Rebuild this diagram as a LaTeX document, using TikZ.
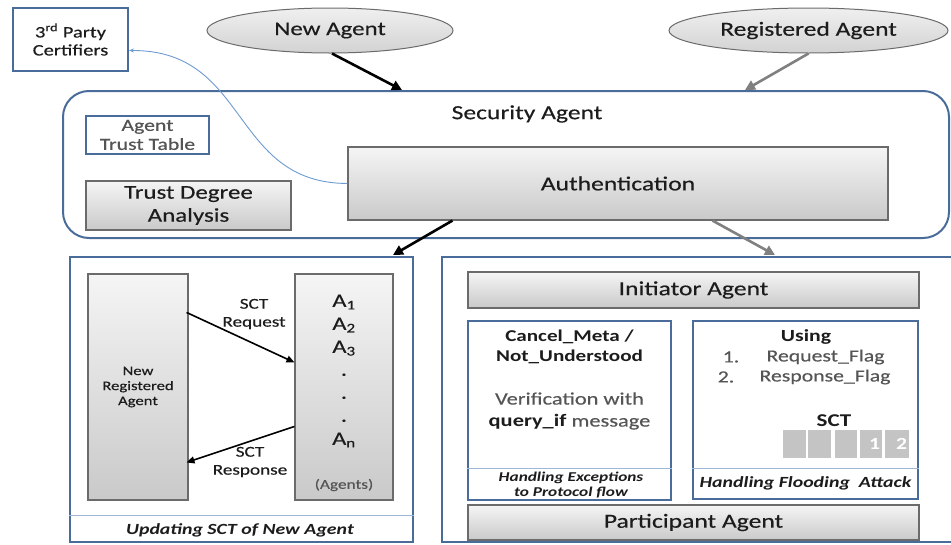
\documentclass[tikz,border=0pt]{standalone}
\usepackage{fontspec}
\setmainfont{Carlito}[FakeStretch=1.28, UprightFeatures={FakeBold=0.35}]
\usetikzlibrary{arrows.meta,calc,shapes.geometric}

\definecolor{frameblue}{HTML}{4A6C9B}
\definecolor{lineblue}{HTML}{9DB7D8}
\definecolor{curveblue}{HTML}{6E9AD0}
\definecolor{boxedge}{HTML}{6B6B6B}
\definecolor{ink}{HTML}{1C1C1C}
\definecolor{softink}{HTML}{555555}
\definecolor{arrowgray}{HTML}{808080}
\definecolor{cellgray}{HTML}{C4C4C4}

\newcommand{\fs}[2]{\fontsize{#1}{#2}\selectfont}

\tikzset{
  bluebox/.style={draw=frameblue, line width=2pt, fill=white, inner sep=0pt},
  graybox/.style={draw=boxedge, line width=1.1pt, top color=gray!8, bottom color=gray!42,
                  inner sep=0pt, text=ink},
  oval/.style={ellipse, draw=boxedge, line width=1pt, top color=gray!12, bottom color=gray!35,
               inner sep=0pt, text=ink},
  plain/.style={inner sep=0pt, text=ink, align=center},
  blkarrow/.style={draw=black, line width=2.6pt, -{Triangle[length=10pt,width=10pt]}},
  gryarrow/.style={draw=arrowgray, line width=2.6pt, -{Triangle[length=10pt,width=10pt]}},
  thinarrow/.style={draw=black, line width=1.6pt, -{Triangle[length=8pt,width=7pt]}},
  divider/.style={draw=lineblue, line width=1pt},
  cell/.style={fill=cellgray, minimum width=23pt, minimum height=28pt, inner sep=1.5pt,
               text=white, font=\fs{17}{17}\bfseries, anchor=north west, align=right}
}

\begin{document}
\begin{tikzpicture}[x=1pt,y=-1pt]
\useasboundingbox (0,0) rectangle (951,544);

% --- top row: external parties ---
\node[bluebox, minimum width=115pt, minimum height=63pt, align=center, text=ink,
      font=\fs{16}{18}] (tpc) at (70.5,39.5) {3\textsuperscript{rd} Party\\Certifiers};
\node[oval, minimum width=246pt, minimum height=45pt, font=\fs{19.5}{20}] (newag) at (330,30.5) {New Agent};
\node[oval, minimum width=279pt, minimum height=45pt, font=\fs{20}{20}] (regag) at (808.5,30.5) {Registered Agent};

% --- security agent ---
\node[draw=frameblue, line width=2pt, rounded corners=26pt, minimum width=886pt,
      minimum height=147pt, inner sep=0pt] (sec) at (506,164.5) {};
\node[plain, font=\fs{20}{20}] (sectitle) at (527,114) {Security Agent};
\node[bluebox, minimum width=123pt, minimum height=38pt, align=center, text=softink,
      font=\fs{17}{19}] (att) at (147.5,135) {Agent\\Trust Table};
\node[graybox, minimum width=205pt, minimum height=49pt, align=center,
      font=\fs{19.5}{23}] (tda) at (188.5,205.5) {Trust Degree\\Analysis};
\node[graybox, minimum width=540pt, minimum height=73pt, font=\fs{20}{22}] (auth) at (618,183.5) {Authentication};

% --- lower left: updating the SCT of a new agent ---
\node[bluebox, minimum width=343pt, minimum height=285pt] (lbox) at (241.5,399.5) {};
\node[graybox, minimum width=100pt, minimum height=226pt, align=center,
      font=\fs{13}{15}] (nra) at (138,387) {New\\Registered\\Agent};
\node[graybox, minimum width=98pt, minimum height=226pt] (agents) at (344,387) {};
\node[plain, font=\fs{19}{23}] (alist) at (344,371)
  {A\textsubscript{1}\\A\textsubscript{2}\\A\textsubscript{3}\\.\\.\\.\\A\textsubscript{n}};
\node[plain, font=\fs{13.5}{14}, text=softink] (agtag) at (344,485) {(Agents)};
\draw[divider] (lbox.west |- 0,515) coordinate (ldl) -- (lbox.east |- 0,515) coordinate (ldr);
\node[plain, font=\fs{15.5}{16}\bfseries\itshape] (ltitle) at (240,530) {Updating SCT of New Agent};

\coordinate (reqA) at ($(nra.north east)+(-2,39)$);
\coordinate (reqB) at ($(agents.north west)+(0,89)$);
\coordinate (resA) at ($(agents.north west)+(0,153)$);
\coordinate (resB) at ($(nra.north east)+(-2,189)$);
\draw[thinarrow] (reqA) -- (reqB);
\draw[thinarrow] (resA) -- (resB);
\node[plain, font=\fs{15}{18}] (reqlbl) at (254,314) {SCT\\Request};
\node[plain, font=\fs{15}{18}] (reslbl) at (250,462) {SCT\\Response};

% --- lower right: protocol between initiator and participant ---
\node[bluebox, minimum width=518pt, minimum height=285pt] (rbox) at (701,399.5) {};
\node[graybox, minimum width=451pt, minimum height=36pt, font=\fs{20}{22}] (init) at (693.5,290) {Initiator Agent};
\node[graybox, minimum width=451pt, minimum height=35pt, font=\fs{20}{22}] (part) at (693.5,522.5) {Participant Agent};

\node[bluebox, minimum width=203pt, minimum height=179pt] (cbox) at (569.5,410.5) {};
\draw[divider] (cbox.west |- 0,468) -- (cbox.east |- 0,468);
\node[plain, font=\fs{16.5}{20}\bfseries] (cmeta) at (569.5,347) {Cancel\_Meta /\\Not\_Understood};
\node[plain, font=\fs{17.5}{22}, text=softink] (verif) at (569.5,411)
  {Verification with\\{\color{ink}\bfseries query\_if} message};
\node[plain, font=\fs{13.5}{15}\bfseries\itshape] (hexc) at (571,485.5) {Handling Exceptions\\to Protocol flow};

\node[bluebox, minimum width=225pt, minimum height=178pt] (ubox) at (805.5,410) {};
\draw[divider] (ubox.west |- 0,468) -- (ubox.east |- 0,468);
\node[plain, font=\fs{17}{20}\bfseries] (using) at (806,337) {Using};
\node[plain, font=\fs{17}{20}, text=softink] (n1) at (731,357) {1.};
\node[plain, font=\fs{17}{20}, text=softink] (f1) at (825.5,357) {Request\_Flag};
\node[plain, font=\fs{17}{20}, text=softink] (n2) at (726,377) {2.};
\node[plain, font=\fs{17}{20}, text=softink] (f2) at (825,377) {Response\_Flag};
\node[plain, font=\fs{18}{20}\bfseries] (sct) at (834,421) {SCT};
\node[cell] (c1) at (783,430) {};
\node[cell] (c2) at (808,430) {};
\node[cell, minimum width=22pt] (c3) at (835,430) {};
\node[cell, minimum width=22pt, text width=18pt] (c4) at (860,430) {1};
\node[cell, minimum width=24pt, text width=20pt] (c5) at (885,430) {2};
\node[plain, font=\fs{15.5}{16}\bfseries\itshape] (hflood) at (805.5,483) {Handling Flooding\ \ Attack};

% --- connectors ---
\draw[blkarrow] ($(newag.south)+(2,0)$) -- ($(sec.north west)+(340,0)$);
\draw[gryarrow] (regag.south) -- ($(sec.north west)+(683,0)$);
\draw[blkarrow] ($(auth.south west)+(105,0)$) -- ($(lbox.north east)+(-21,-1)$);
\draw[gryarrow] ($(auth.south west)+(365,0)$) -- ($(rbox.north west)+(334,-1)$);
\draw[draw=curveblue, line width=0.9pt, -{Stealth[length=5pt,width=4pt]}]
  (auth.west) .. controls (230,183) and (250,50) .. ($(tpc.east)+(0,11)$);
\end{tikzpicture}
\end{document}
